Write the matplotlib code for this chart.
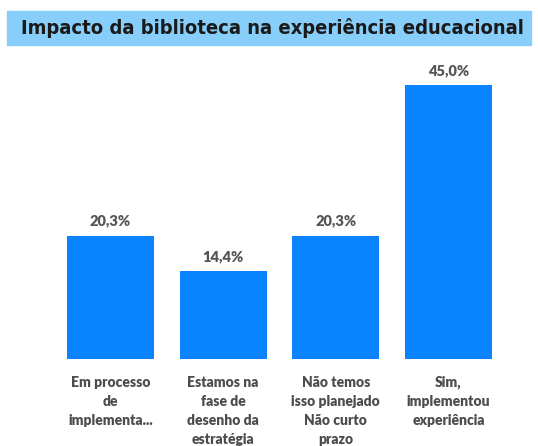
import matplotlib.pyplot as plt
from matplotlib.patches import Rectangle

categories = ['Em processo\nde\nimplementa...',
              'Estamos na\nfase de\ndesenho da\nestratégia',
              'Não temos\nisso planejado\nNão curto\nprazo',
              'Sim,\nimplementou\nexperiência']
values = [20.3, 14.4, 20.3, 45.0]
labels = ['20,3%', '14,4%', '20,3%', '45,0%']

W, H = 538, 446
fig = plt.figure(figsize=(W / 100, H / 100), dpi=100)

# title banner
fig.patches.append(Rectangle((7 / W, 1 - 45 / H), 524 / W, 34 / H,
                             transform=fig.transFigure, color='#87CEFA', zorder=0))
fig.text(272 / W, 1 - 28 / H, 'Impacto da biblioteca na experiência educacional',
         ha='center', va='center', fontsize=14.5, fontweight='bold',
         fontstretch='condensed', color='#1a1a1a')

ax = fig.add_axes([54.2 / W, 87 / H, 450.6 / W, 304 / H])
x = range(len(values))
bars = ax.bar(x, values, width=0.77, color='#0A84FF')
for xi, v, lab in zip(x, values, labels):
    ax.annotate(lab, (xi, v), xytext=(0, 6), textcoords='offset points',
                ha='center', va='bottom', fontsize=10.5, fontweight='heavy',
                family='Lato', color='#555555')

ax.set_xlim(-0.5, 3.5)
ax.set_ylim(0, 50)
ax.set_xticks(list(x))
ax.set_xticklabels(categories, fontsize=10, fontweight='heavy', color='#4d4d4d',
                   family='Lato', linespacing=1.55, va='top')
ax.tick_params(axis='x', length=0, pad=12)
ax.set_yticks([])
for s in ax.spines.values():
    s.set_visible(False)

fig.savefig('out.png', dpi=100)
